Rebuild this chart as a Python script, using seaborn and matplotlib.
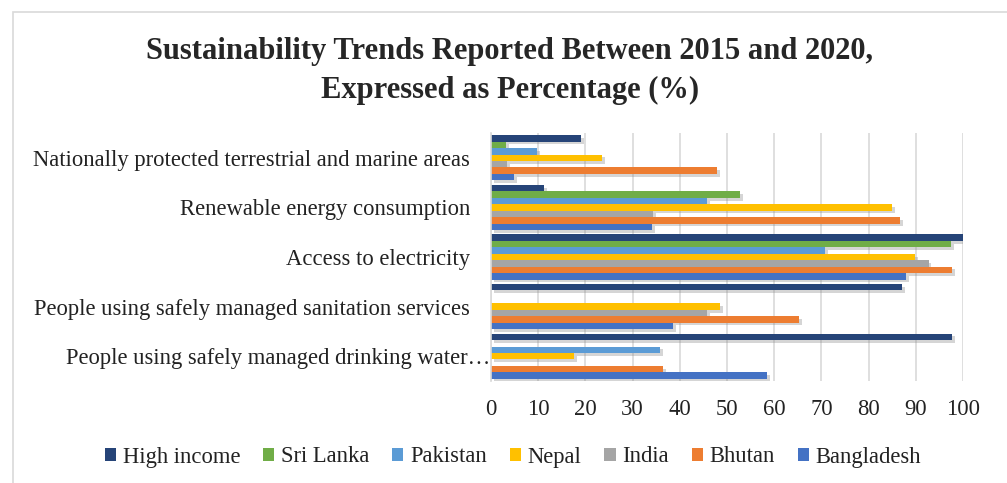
import numpy as np
import pandas as pd
import matplotlib
matplotlib.use("Agg")
import matplotlib.pyplot as plt
import matplotlib.patheffects as pe
import matplotlib.transforms as mtransforms
import seaborn as sns

categories = [
    "Nationally protected terrestrial and marine areas",
    "Renewable energy consumption",
    "Access to electricity",
    "People using safely managed sanitation services",
    "People using safely managed drinking water\u2026",
]
series = ["High income", "Sri Lanka", "Pakistan", "Nepal", "India", "Bhutan", "Bangladesh"]
high_income = [19.1, 11.2, 100.0, 87.1, 97.7]
sri_lanka = [3.2, 52.8, 97.5, np.nan, np.nan]
pakistan = [9.8, 45.8, 70.8, np.nan, 35.8]
nepal = [23.5, 85.0, 89.9, 48.6, 17.6]
india = [3.4, 34.3, 92.7, 45.8, np.nan]
bhutan = [47.9, 86.7, 97.7, 65.3, 36.5]
bangladesh = [4.9, 34.1, 88.0, 38.6, 58.5]
xticks = [0, 10, 20, 30, 40, 50, 60, 70, 80, 90, 100]

colors = ["#264478", "#70AD47", "#5B9BD5", "#FFC000", "#A5A5A5", "#ED7D31", "#4472C4"]

values = [high_income, sri_lanka, pakistan, nepal, india, bhutan, bangladesh]
rows = []
for s, vals in zip(series, values):
    for c, v in zip(categories, vals):
        rows.append({"Category": c, "Series": s, "Value": v})
df = pd.DataFrame(rows)

sns.set_theme(style="white")
plt.rcParams["font.family"] = ["Liberation Serif", "DejaVu Serif"]

FS = 16.3
fig = plt.figure(figsize=(10.07, 4.83), dpi=100)
ax = fig.add_axes([491/1007, 1-381/483, (963-491)/1007, (381-133)/483])

sns.barplot(data=df, y="Category", x="Value", hue="Series", order=categories,
            hue_order=series, palette=colors, orient="h", width=0.91,
            errorbar=None, ax=ax, saturation=1, legend=True)

for p in ax.patches:
    p.set_linewidth(0)
    p.set_path_effects([pe.SimplePatchShadow(offset=(2, -2), shadow_rgbFace="#888888", alpha=0.35),
                        pe.Normal()])

ax.set_xlim(0, 100)
ax.set_xticks(xticks)
ax.set_xticklabels([str(t) for t in xticks], fontsize=FS, color="#222222")
ax.tick_params(axis="x", length=0, pad=13)
ax.tick_params(axis="y", length=0, pad=15, labelsize=FS, labelcolor="#222222")
ax.set_xlabel("")
ax.set_ylabel("")
ax.grid(axis="x", color="#D9D9D9", linewidth=1.2)
ax.set_axisbelow(True)
for sp in ["top", "right", "bottom"]:
    ax.spines[sp].set_visible(False)
ax.spines["left"].set_color("#D9D9D9")
ax.spines["left"].set_linewidth(1.2)

# the truncated last category label sits closer to the axis in the reference
ylabels = ax.get_yticklabels()
shift = mtransforms.ScaledTranslation(20/100, 0, fig.dpi_scale_trans)
ylabels[-1].set_transform(ylabels[-1].get_transform() + shift)

h, l = ax.get_legend_handles_labels()
ax.legend_.remove()
leg = fig.legend(h, l, loc="center", bbox_to_anchor=(513/1007, 1-457/483), ncol=7,
                 frameon=False, fontsize=FS, handlelength=0.5, handleheight=0.5,
                 handletextpad=0.3, columnspacing=1.0, labelcolor="#222222")
for hd in leg.legend_handles:
    hd.set_path_effects([])

fig.text(510/1007, 1-71/483,
         "Sustainability Trends Reported Between 2015 and 2020,\nExpressed as Percentage (%)",
         ha="center", va="center", fontsize=22, fontweight="bold", linespacing=1.45)

fig.add_artist(plt.Rectangle((13/1007, -0.05), 1.1, 1-12/483+0.05, transform=fig.transFigure,
                             fill=False, edgecolor="#D9D9D9", linewidth=1.2))

fig.savefig("out.png", dpi=100)
